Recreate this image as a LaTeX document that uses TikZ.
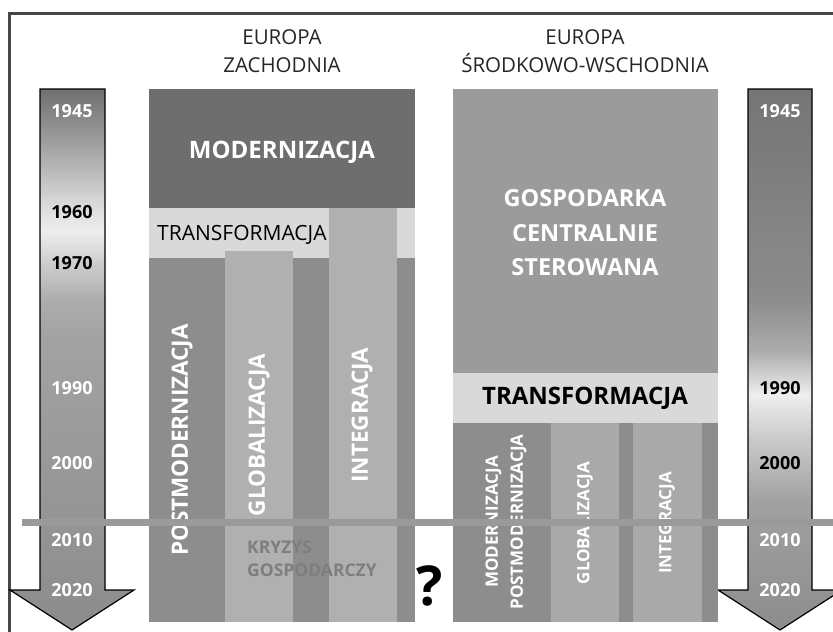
\documentclass[tikz,border=0pt]{standalone}
\usepackage{fontspec}
\setmainfont{Open Sans}
\definecolor{frame}{HTML}{464646}
\definecolor{modern}{HTML}{6E6E6E}
\definecolor{gosp}{HTML}{9B9B9B}
\definecolor{band}{HTML}{D9D9D9}
\definecolor{darkcol}{HTML}{8D8D8D}
\definecolor{lightcol}{HTML}{B0B0B0}
\definecolor{lightcolE}{HTML}{A9A9A9}
\definecolor{barcol}{HTML}{9A9A9A}
\definecolor{crisis}{HTML}{7E7E7E}
\definecolor{titlec}{HTML}{262626}
\definecolor{ga}{HTML}{6F6F6F}
\definecolor{gb}{HTML}{9C9C9C}
\definecolor{gc}{HTML}{D6D6D6}
\definecolor{gd}{HTML}{EEEEEE}
\definecolor{ge}{HTML}{CFCFCF}
\definecolor{gf}{HTML}{ADADAD}
\definecolor{gg}{HTML}{A2A2A2}
\definecolor{gh}{HTML}{9A9A9A}
\definecolor{gi}{HTML}{8C8C8C}
\begin{document}
\begin{tikzpicture}[x=1pt,y=-1pt,
  title/.style={font=\fontsize{20.5}{28}\selectfont, text=titlec, align=center},
  year/.style={font=\bfseries\fontsize{18}{20}\selectfont},
  wyear/.style={year, text=white},
  byear/.style={year, text=black},
  vtext/.style={rotate=90, text=white, font=\bfseries\fontsize{22.5}{26}\selectfont},
  vtextE/.style={rotate=90, text=white, font=\bfseries\fontsize{17}{25}\selectfont, align=center},
  arrowline/.style={draw=black, line width=1.2pt, line join=miter},
  inner sep=0pt]
\useasboundingbox (0,0) rectangle (833,632);
% frame
\draw[frame, line width=3.5pt] (9.5,632) -- (9.5,13.5) -- (833,13.5);

% ---------- left arrow ----------
\begin{scope}
  \clip (40,89) -- (105,89) -- (105,590) -- (134,590) -- (72,630) -- (10,590) -- (40,590) -- cycle;
  \shade[top color=ga, bottom color=gb] (0,88) rectangle (140,140);
  \shade[top color=gb, bottom color=gc] (0,139.5) rectangle (140,200);
  \shade[top color=gc, bottom color=gd] (0,199.5) rectangle (140,232);
  \shade[top color=gd, bottom color=ge] (0,231.5) rectangle (140,262);
  \shade[top color=ge, bottom color=gf] (0,261.5) rectangle (140,300);
  \shade[top color=gf, bottom color=gg] (0,299.5) rectangle (140,340);
  \shade[top color=gg, bottom color=gh] (0,339.5) rectangle (140,450);
  \shade[top color=gh, bottom color=gi] (0,449.5) rectangle (140,631);
\end{scope}
\draw[arrowline] (40,89) -- (105,89) -- (105,590) -- (134,590) -- (72,630) -- (10,590) -- (40,590) -- cycle;

% ---------- right arrow ----------
\begin{scope}
  \clip (748,89) -- (812,89) -- (812,590) -- (842,590) -- (780,630) -- (718,590) -- (748,590) -- cycle;
  \shade[top color=ga!80!gi, bottom color=gi] (700,88) rectangle (850,300);
  \shade[top color=gi, bottom color=gf] (700,299.5) rectangle (850,352);
  \shade[top color=gf, bottom color=gd] (700,351.5) rectangle (850,395);
  \shade[top color=gd, bottom color=gc!70!gf] (700,394.5) rectangle (850,440);
  \shade[top color=gc!70!gf, bottom color=gg] (700,439.5) rectangle (850,500);
  \shade[top color=gg, bottom color=gi] (700,499.5) rectangle (850,631);
\end{scope}
\draw[arrowline] (748,89) -- (812,89) -- (812,590) -- (842,590) -- (780,630) -- (718,590) -- (748,590) -- cycle;

% ---------- titles ----------
\node[title] (tw) at (282,51) {EUROPA\\ZACHODNIA};
\node[title] (te) at (585,51) {EUROPA\\ŚRODKOWO-WSCHODNIA};

% ---------- western block ----------
\fill[darkcol] (149,89) rectangle (415,622);
\fill[modern] (149,89) rectangle (415,208);
\fill[band] (149,208) rectangle (415,258);
\node[anchor=west, font=\fontsize{21}{24}\selectfont, text=black] (trw) at (157,235) {TRANSFORMACJA};
\fill[lightcol] (225,251) rectangle (293,622);
\fill[lightcol] (329,208) rectangle (397,622);
\node[text=white, font=\bfseries\fontsize{24}{28}\selectfont] (mod) at (282,152) {MODERNIZACJA};
\node[vtext] (pmw) at (182,440) {POSTMODERNIZACJA};
\node[vtext] (glw) at (259,435) {GLOBALIZACJA};
\node[vtext] (inw) at (362,415) {INTEGRACJA};

% ---------- eastern block ----------
\fill[gosp] (453,89) rectangle (718,373);
\fill[band] (453,373) rectangle (718,423);
\fill[darkcol] (453,423) rectangle (718,622);
\fill[lightcolE] (551,423) rectangle (619,622);
\fill[lightcolE] (633,423) rectangle (702,622);
\node[text=white, align=center, font=\bfseries\fontsize{23.5}{34.5}\selectfont] (gsp) at (585,233) {GOSPODARKA\\CENTRALNIE\\STEROWANA};
\node[text=black, font=\bfseries\fontsize{24}{26}\selectfont] (tre) at (585,398) {TRANSFORMACJA};
\node[vtextE] (pme) at (506,522) {MODERNIZACJA\\POSTMODERNIZACJA};
\node[vtextE] (gle) at (585,523) {GLOBALIZACJA};
\node[vtextE] (ine) at (667,523) {INTEGRACJA};

% ---------- crisis and question ----------
\node[anchor=west, align=left, text=crisis, font=\bfseries\fontsize{17.5}{23}\selectfont] (kry) at (247,559) {KRYZYS\\GOSPODARCZY};
\node[font=\bfseries\fontsize{55}{58}\selectfont, text=black] (q) at (430,586) {?};

% ---------- year labels ----------
\node[wyear] (l45) at (72,111) {1945};
\node[byear] (l60) at (72,212) {1960};
\node[byear] (l70) at (72,263) {1970};
\node[wyear] (l90) at (72,388) {1990};
\node[wyear] (l00) at (72,463) {2000};
\node[wyear] (l10) at (72,540) {2010};
\node[wyear] (l20) at (72,590) {2020};
\node[wyear] (r45) at (780,111) {1945};
\node[byear] (r90) at (780,388) {1990};
\node[byear] (r00) at (780,463) {2000};
\node[wyear] (r10) at (780,540) {2010};
\node[wyear] (r20) at (780,590) {2020};

% ---------- horizontal bar ----------
\coordinate (bs) at (22,522);
\coordinate (be) at (833,522);
\draw[barcol, line width=7pt] (bs) -- (be);
\end{tikzpicture}
\end{document}
